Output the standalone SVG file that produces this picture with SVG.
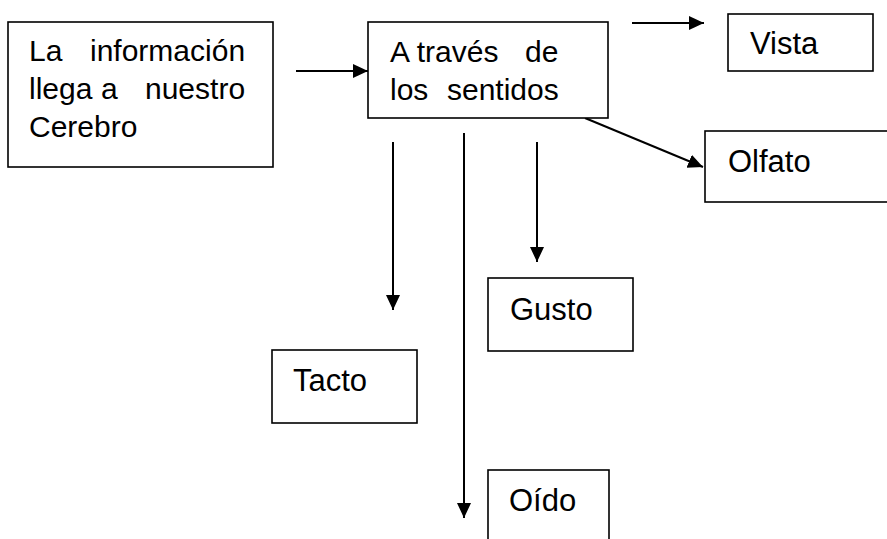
<svg xmlns="http://www.w3.org/2000/svg" width="887" height="539" viewBox="0 0 887 539">
<style>
.box{fill:#fff;stroke:#000;stroke-width:1.6}
.t{font-family:"Liberation Sans",Arial,sans-serif;fill:#000}
.m{font-size:30px}
.s{font-size:31px}
.c{stroke:#000;stroke-width:2;fill:none;marker-end:url(#ah)}
</style>
<defs>
<marker id="ah" markerUnits="userSpaceOnUse" markerWidth="16" markerHeight="15" refX="15" refY="7" orient="auto">
<path d="M0,0 L15,7 L0,14 z" fill="#000"/>
</marker>
</defs>
<rect width="887" height="539" fill="#fff"/>
<g id="connectors">
<line class="c" x1="296" y1="71" x2="368" y2="71"/>
<line class="c" x1="632" y1="23" x2="704" y2="23"/>
<line class="c" x1="585" y1="118" x2="703" y2="167"/>
<line class="c" x1="393" y1="142" x2="393" y2="310"/>
<line class="c" x1="464" y1="133" x2="464" y2="518"/>
<line class="c" x1="537" y1="142" x2="537" y2="262"/>
</g>
<g id="cerebro">
<rect class="box" x="8" y="22" width="265" height="145"/>
<text class="t m"><tspan x="29" y="61">La</tspan><tspan x="90" y="61">información</tspan><tspan x="29" y="99">llega</tspan><tspan x="101" y="99">a</tspan><tspan x="145" y="99">nuestro</tspan><tspan x="29" y="137">Cerebro</tspan></text>
</g>
<g id="sentidos">
<rect class="box" x="368" y="22" width="240" height="96"/>
<text class="t m"><tspan x="390" y="62">A través</tspan><tspan x="525" y="62">de</tspan><tspan x="390" y="100">los</tspan><tspan x="447" y="100">sentidos</tspan></text>
</g>
<g id="vista">
<rect class="box" x="728" y="14" width="145" height="57"/>
<text class="t s" x="750" y="54">Vista</text>
</g>
<g id="olfato">
<rect class="box" x="705" y="131" width="200" height="71"/>
<text class="t s" x="728" y="172">Olfato</text>
</g>
<g id="gusto">
<rect class="box" x="488" y="278" width="145" height="73"/>
<text class="t s" x="510" y="320">Gusto</text>
</g>
<g id="tacto">
<rect class="box" x="272" y="350" width="145" height="73"/>
<text class="t s" x="293" y="391">Tacto</text>
</g>
<g id="oido">
<rect class="box" x="488" y="470" width="121" height="90"/>
<text class="t s" x="509" y="511">Oído</text>
</g>
</svg>
